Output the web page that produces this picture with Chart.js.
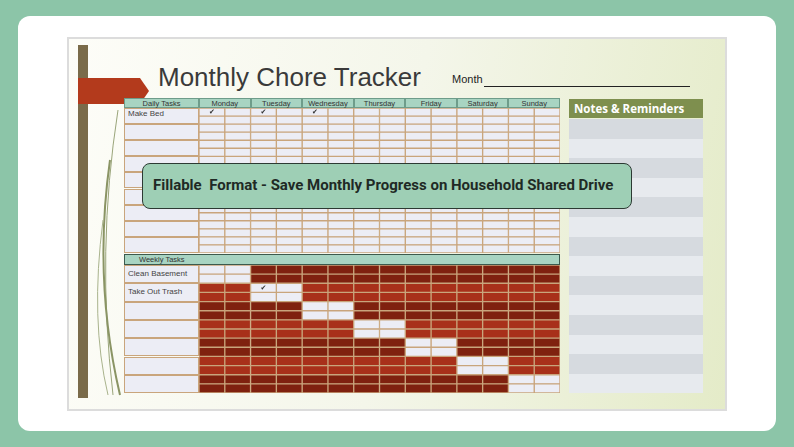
<!DOCTYPE html>
<html><head><meta charset="utf-8">
<script src="https://cdn.jsdelivr.net/npm/chart.js@4.4.1/dist/chart.umd.min.js"></script>
<style>
body{margin:0;width:794px;height:447px;background:#8CC5A8;font-family:"Liberation Sans",Arial,sans-serif;overflow:hidden;position:relative}
.abs{position:absolute}
#card{left:18px;top:16px;width:758px;height:415px;background:#fff;border-radius:12px}
#slide{left:67px;top:37px;width:660px;height:374px;background:linear-gradient(100deg,#fdfdf8 0%,#f4f6ea 50%,#e4ebc8 100%);border:2px solid #dcdcdc;box-sizing:border-box}
.cell{position:absolute;box-sizing:border-box;border:1px solid #c9a57c;background:#ecedf5;font-size:8px;color:#444;padding-left:3px}
.hdr{position:absolute;background:#a8d4c2;border:1px solid #6e9c8a;box-sizing:border-box;font-size:7.5px;color:#333;text-align:center;line-height:9px}
</style></head><body>
<div id="card" class="abs"></div>
<div id="slide" class="abs"></div>
<div class="abs" style="left:78px;top:45px;width:10px;height:353px;background:#7a6b4a"></div>
<svg class="abs" style="left:88px;top:100px" width="40" height="300"><path d="M30 10 Q8 150 25 295" stroke="#9aa57a" fill="none" stroke-width="1"/><path d="M22 60 Q5 180 32 295" stroke="#8a9464" fill="none" stroke-width="2"/><path d="M15 120 Q2 220 20 295" stroke="#a9b38c" fill="none" stroke-width="1"/></svg>
<svg class="abs" style="left:78px;top:78px" width="72" height="28"><polygon points="0,0 62,0 71,13 62,26 0,26" fill="#b33a1c"/></svg>
<div class="abs" style="left:158px;top:62px;font-family:'Liberation Sans';font-size:26px;color:#3a3a3a">Monthly Chore Tracker</div>
<div class="abs" style="left:452px;top:73px;font-size:11px;color:#222">Month</div>
<div class="abs" style="left:484px;top:86px;width:206px;height:1px;background:#222"></div>
<div id="dh"></div>
<div class="abs" style="left:199px;top:108px;width:361px;height:145px"><canvas id="daily"></canvas></div>
<div class="abs" style="left:199px;top:265px;width:361px;height:128px"><canvas id="weekly"></canvas></div>
<div class="abs" style="left:569px;top:99px;width:134px;height:19px;background:#7e8f4e;color:#fff;font-weight:bold;font-size:11.5px;line-height:19px;padding-left:5px;box-sizing:border-box;font-family:'Open Sans'">Notes &amp; Reminders</div>
<div class="abs" style="left:142px;top:163px;width:490px;height:46px;background:#9ecfb5;border:1.5px solid #2c3a33;border-radius:8px;box-sizing:border-box;font-family:Roboto;font-weight:bold;font-size:15px;color:#1f2a25;line-height:43px;padding-left:10px;white-space:pre">Fillable  Format - Save Monthly Progress on Household Shared Drive</div>
<script>
const days=["Monday","Tuesday","Wednesday","Thursday","Friday","Saturday","Sunday"];
const dailyTasks=["Make Bed","","","","","","","",""];
const dailyChecks=[[0,2,4]];
const weeklyTasks=["Clean Basement","Take Out Trash","","","","",""];
const weeklyDay=[0,1,2,3,4,5,6];
const weeklyChecks=[[],[2]];

const L=124,X0=199,W=361,dTop=108,dRowH=16.1,wTop=265,wRowH=18.3;
let h='';
h+=`<div class="hdr" style="left:${L}px;top:98px;width:75px;height:10px">Daily Tasks</div>`;
days.forEach((d,i)=>h+=`<div class="hdr" style="left:${X0+i*W/7}px;top:98px;width:${W/7}px;height:10px">${d}</div>`);
dailyTasks.forEach((t,i)=>h+=`<div class="cell" style="left:${L}px;top:${dTop+i*dRowH}px;width:75px;height:${dRowH}px">${t}</div>`);
h+=`<div class="hdr" style="left:${L}px;top:254px;width:436px;height:11px;text-align:left;padding-left:14px;line-height:10px;border-color:#3c5a4e">Weekly Tasks</div>`;
weeklyTasks.forEach((t,i)=>h+=`<div class="cell" style="left:${L}px;top:${wTop+i*wRowH}px;width:75px;height:${wRowH}px;line-height:${wRowH-2}px">${t}</div>`);
for(let i=0;i<14;i++)h+=`<div class="abs" style="left:569px;top:${119+i*19.6}px;width:134px;height:19.6px;background:${i%2?'#e7eaee':'#d6dadf'}"></div>`;
document.getElementById('dh').innerHTML=h;

function grid(id,tasks,color,checks){
  const rows=[];tasks.forEach((t,i)=>{rows.push(t+' a');rows.push(t+' b')});
  const ds=[];
  for(let c=0;c<14;c++)ds.push({data:rows.map(()=>1),backgroundColor:ctx=>color(Math.floor(ctx.dataIndex/2),c),borderColor:'#c9a57c',borderWidth:1,borderSkipped:false,barPercentage:1,categoryPercentage:1});
  new Chart(document.getElementById(id),{type:'bar',data:{labels:rows,datasets:ds},
   options:{indexAxis:'y',responsive:true,maintainAspectRatio:false,animation:false,events:[],
   layout:{padding:0},
   plugins:{legend:{display:false},tooltip:{enabled:false}},
   scales:{x:{stacked:true,display:false,min:0,max:14},y:{stacked:true,display:false}}},
   plugins:[{id:'chk',afterDatasetsDraw(ch){const c=ch.ctx;c.fillStyle='#333';c.font='7px DejaVu Sans';c.textAlign='center';
     checks.forEach((cols,r)=>cols.forEach(col=>{
       const x=ch.scales.x.getPixelForValue(col+0.5),y=ch.scales.y.getPixelForValue(r*2);c.fillText('✔',x,y+2);}));}}]});
}
grid('daily',dailyTasks,()=>'#ecedf5',dailyChecks);
grid('weekly',weeklyTasks,(r,c)=>Math.floor(c/2)===weeklyDay[r]?'#ecedf5':(r%2?'#a8301a':'#7f210f'),weeklyChecks);
</script></body></html>
